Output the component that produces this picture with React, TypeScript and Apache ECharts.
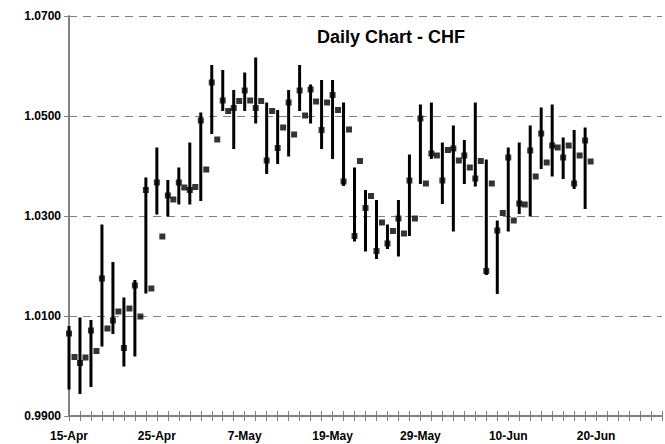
import React, { useEffect, useRef } from "react";
import * as echarts from "echarts";

const dates: string[] = [
  "15-Apr", "16-Apr", "17-Apr", "18-Apr", "19-Apr", "22-Apr", "23-Apr", "24-Apr",
  "25-Apr", "26-Apr", "29-Apr", "30-Apr", "1-May", "2-May", "3-May", "6-May",
  "7-May", "8-May", "9-May", "10-May", "13-May", "14-May", "15-May", "16-May",
  "19-May", "20-May", "21-May", "22-May", "23-May", "24-May", "27-May", "28-May",
  "29-May", "30-May", "31-May", "3-Jun", "4-Jun", "5-Jun", "6-Jun", "7-Jun",
  "10-Jun", "11-Jun", "12-Jun", "13-Jun", "14-Jun", "17-Jun", "18-Jun", "19-Jun",
  "20-Jun", "21-Jun", "24-Jun", "25-Jun", "26-Jun", "27-Jun", "28-Jun",
];

const high: number[] = [
  1.0080, 1.0097, 1.0092, 1.0283, 1.0208, 1.0137, 1.0172, 1.0377,
  1.0437, 1.0372, 1.0397, 1.0447, 1.0507, 1.0602, 1.0592, 1.0552,
  1.0587, 1.0617, 1.0527, 1.0512, 1.0552, 1.0602, 1.0563, 1.0572,
  1.0572, 1.0527, 1.0397, 1.0352, 1.0332, 1.0283, 1.0332, 1.0423,
  1.0523, 1.0527, 1.0447, 1.0481, 1.0452, 1.0527, 1.0413, 1.0291,
  1.0437, 1.0447, 1.0481, 1.0517, 1.0523, 1.0457, 1.0472, 1.0477,
];

const low: number[] = [
  0.9953, 0.9944, 0.9958, 1.0039, 1.0064, 0.9999, 1.0019, 1.0145,
  1.0303, 1.0299, 1.0323, 1.0323, 1.0330, 1.0464, 1.0510, 1.0434,
  1.0510, 1.0485, 1.0384, 1.0404, 1.0419, 1.0510, 1.0485, 1.0434,
  1.0414, 1.0360, 1.0249, 1.0229, 1.0214, 1.0234, 1.0219, 1.0260,
  1.0364, 1.0414, 1.0324, 1.0269, 1.0364, 1.0359, 1.0182, 1.0144,
  1.0269, 1.0304, 1.0299, 1.0394, 1.0379, 1.0374, 1.0354, 1.0314,
];

const close: number[] = [
  1.0065, 1.0006, 1.0071, 1.0175, 1.0091, 1.0036, 1.0161, 1.0352,
  1.0367, 1.0341, 1.0367, 1.0352, 1.0491, 1.0567, 1.0531, 1.0516,
  1.0551, 1.0516, 1.0411, 1.0436, 1.0527, 1.0551, 1.0553, 1.0472,
  1.0542, 1.0369, 1.0260, 1.0316, 1.0230, 1.0245, 1.0295, 1.0371,
  1.0495, 1.0425, 1.0371, 1.0435, 1.0421, 1.0375, 1.0190, 1.0271,
  1.0417, 1.0325, 1.0431, 1.0465, 1.0441, 1.0417, 1.0365, 1.0451,
];

const midClose: number[] = [
  1.0018, 1.0017, 1.0030, 1.0075, 1.0109, 1.0115, 1.0099, 1.0155,
  1.0259, 1.0333, 1.0357, 1.0358, 1.0393, 1.0453, 1.0510, 1.0530,
  1.0531, 1.0530, 1.0510, 1.0477, 1.0463, 1.0501, 1.0529, 1.0527,
  1.0512, 1.0473, 1.0410, 1.0340, 1.0287, 1.0270, 1.0265, 1.0295,
  1.0365, 1.0421, 1.0432, 1.0411, 1.0397, 1.0410, 1.0365, 1.0306,
  1.0291, 1.0323, 1.0379, 1.0407, 1.0437, 1.0441, 1.0421, 1.0409,
];

const yTicks = { min: 0.99, max: 1.07, step: 0.02 };
const title = "Daily Chart - CHF";

const FONT = "'Liberation Sans', Arial, sans-serif";
const AXIS_GRAY = "#808080";

export default function App() {
  const ref = useRef<HTMLDivElement>(null);

  useEffect(() => {
    if (!ref.current) return;
    const chart = echarts.init(ref.current, undefined, { renderer: "svg" });

    const hlData = high.map((h, i) => [i, low[i], h]);
    const closeData = close.map((c, i) => [i, c]);
    const midData = midClose.map((c, i) => [i + 0.5, c]);
    const maxX = dates.length - 1;

    chart.setOption({
      animation: false,
      backgroundColor: "#ffffff",
      title: {
        text: title,
        left: 386,
        top: 23,
        textAlign: "center",
        textStyle: { fontFamily: FONT, fontWeight: "bold", fontSize: 18, color: "#000" },
      },
      grid: { left: 69, right: 0, top: 16, bottom: 28, containLabel: false },
      xAxis: [
        {
          type: "value",
          min: 0,
          max: maxX,
          interval: 1,
          axisLine: { show: true, lineStyle: { color: AXIS_GRAY, width: 2 } },
          axisTick: { show: true, inside: false, length: 5, lineStyle: { color: AXIS_GRAY, width: 1 } },
          axisLabel: {
            show: true,
            margin: 14,
            fontFamily: FONT,
            fontWeight: "bold",
            fontSize: 12,
            color: "#000",
            formatter: (v: number) => (Math.round(v) % 8 === 0 ? dates[Math.round(v)] : ""),
          },
          splitLine: { show: false },
        },
        {
          type: "value",
          min: 0,
          max: maxX,
          interval: 1,
          position: "bottom",
          axisLine: { show: false },
          axisTick: { show: true, inside: true, length: 5, lineStyle: { color: AXIS_GRAY, width: 1 } },
          axisLabel: { show: false },
          splitLine: { show: false },
        },
      ],
      yAxis: {
        type: "value",
        min: yTicks.min,
        max: yTicks.max,
        interval: yTicks.step,
        axisLine: { show: true, lineStyle: { color: AXIS_GRAY, width: 2 } },
        axisTick: { show: true, inside: false, length: 5, lineStyle: { color: AXIS_GRAY, width: 1 } },
        axisLabel: {
          margin: 8,
          fontFamily: FONT,
          fontWeight: "bold",
          fontSize: 12,
          color: "#000",
          formatter: (v: number) => v.toFixed(4),
        },
        splitLine: { show: true, lineStyle: { color: AXIS_GRAY, width: 1, type: [8, 6] } },
      },
      series: [
        {
          type: "custom",
          name: "High-Low",
          xAxisIndex: 0,
          data: hlData,
          encode: { x: 0, y: [1, 2] },
          renderItem: (params: any, api: any) => {
            const p1 = api.coord([api.value(0), api.value(1)]);
            const p2 = api.coord([api.value(0), api.value(2)]);
            return {
              type: "line",
              shape: { x1: p1[0], y1: p1[1], x2: p2[0], y2: p2[1] },
              style: { stroke: "#000", lineWidth: 3 },
            };
          },
          z: 3,
        },
        {
          type: "scatter",
          name: "Close",
          xAxisIndex: 0,
          data: closeData,
          symbol: "rect",
          symbolSize: 6,
          itemStyle: { color: "#000" },
          z: 4,
        },
        {
          type: "scatter",
          name: "Close (mid)",
          xAxisIndex: 0,
          data: midData,
          symbol: "rect",
          symbolSize: 6,
          itemStyle: { color: "#000" },
          z: 4,
        },
      ],
    });

    return () => chart.dispose();
  }, []);

  return (
    <div
      ref={ref}
      style={{ position: "fixed", left: 0, top: 0, width: 665, height: 444, background: "#fff" }}
    />
  );
}
